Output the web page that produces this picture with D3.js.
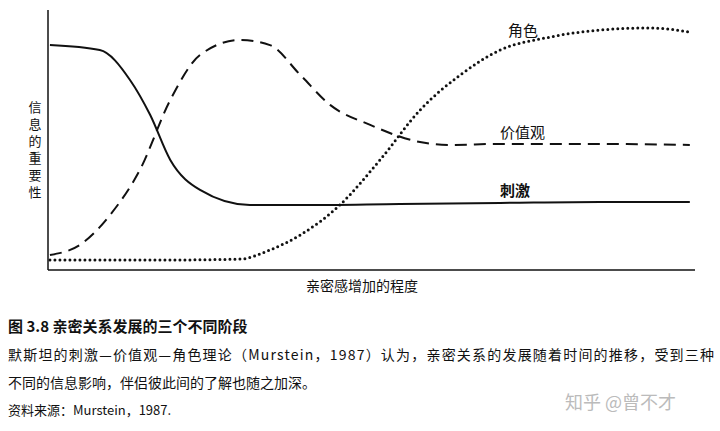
<!DOCTYPE html>
<html><head><meta charset="utf-8">
<script src="https://cdn.jsdelivr.net/npm/d3@7"></script>
<style>body{margin:0;background:#fff}svg{display:block}</style></head>
<body><svg id="c" width="720" height="431"></svg>
<script>
const stimX=[0.3,8,12.7,15.8,18.9,23.5,31.2,39,54.4,69.9,85.3,99.2];
const stimY=[86.5,84.6,73,59.6,42.3,30.8,25,25,25.4,25.8,26.2,26.2];
const valX=[0.3,4.9,9.6,14.2,18.9,23.5,29.7,34.3,39,43.6,49.8,57.5,62.1,69.9,85.3,99.2];
const valY=[5.8,9.6,21.2,38.5,65.4,82.7,88.5,86.5,75,63.5,55.8,49.2,48.1,48.5,48.5,48.1];
const roleX=[0.3,15.8,29.7,34.3,39,45.1,51.3,57.5,63.7,69.9,77.6,85.3,93,99.2];
const roleY=[3.8,3.8,4.2,7.7,13.5,25,42.3,61.5,75,84.6,89.6,92.3,93.1,91.5];
const seriesNames=["刺激","价值观","角色"];
const svg=d3.select("#c");
const x=d3.scaleLinear().domain([0,100]).range([48,695]);
const y=d3.scaleLinear().domain([0,100]).range([270,10]);
const F="'Noto Sans CJK SC',sans-serif";
svg.append("line").attr("x1",48).attr("x2",48).attr("y1",10).attr("y2",270).attr("stroke","#111").attr("stroke-width",1.5);
svg.append("line").attr("x1",48).attr("x2",695).attr("y1",270).attr("y2",270).attr("stroke","#111").attr("stroke-width",1.5);
const line=d3.line().x(d=>x(d[0])).y(d=>y(d[1])).curve(d3.curveMonotoneX);
const z=(a,b)=>a.map((v,i)=>[v,b[i]]);
svg.append("path").attr("d",line(z(stimX,stimY))).attr("fill","none").attr("stroke","#111").attr("stroke-width",2);
svg.append("path").attr("d",line(z(valX,valY))).attr("fill","none").attr("stroke","#111").attr("stroke-width",2).attr("stroke-dasharray","12,7");
svg.append("path").attr("d",line(z(roleX,roleY))).attr("fill","none").attr("stroke","#111").attr("stroke-width",3).attr("stroke-linecap","round").attr("stroke-dasharray","0,5");
const lab=[[500,196,seriesNames[0],true],[500,138,seriesNames[1],false],[508,36,seriesNames[2],false]];
lab.forEach(l=>svg.append("text").attr("x",l[0]).attr("y",l[1]).text(l[2]).attr("font-family",F).attr("font-size",15).attr("font-weight",l[3]?"bold":"normal").attr("fill","#111"));
const yl="信息的重要性";
[...yl].forEach((ch,i)=>svg.append("text").attr("x",35).attr("y",112+i*17).attr("text-anchor","middle").text(ch).attr("font-family",F).attr("font-size",13).attr("fill","#111"));
svg.append("text").attr("x",362).attr("y",291).attr("text-anchor","middle").text("亲密感增加的程度").attr("font-family",F).attr("font-size",14).attr("fill","#111");
svg.append("text").attr("x",8).attr("y",332).text("图 3.8   亲密关系发展的三个不同阶段").attr("font-family",F).attr("font-size",15).attr("font-weight","bold").attr("fill","#111");
svg.append("text").attr("x",8).attr("y",360).text("默斯坦的刺激—价值观—角色理论（Murstein，1987）认为，亲密关系的发展随着时间的推移，受到三种").attr("font-family",F).attr("font-size",14).attr("textLength",706).attr("fill","#111");
svg.append("text").attr("x",8).attr("y",388).text("不同的信息影响，伴侣彼此间的了解也随之加深。").attr("font-family",F).attr("font-size",14).attr("fill","#111");
svg.append("text").attr("x",8).attr("y",415).text("资料来源：Murstein，1987.").attr("font-family",F).attr("font-size",13).attr("fill","#111");
svg.append("text").attr("x",565).attr("y",409).text("知乎 @曾不才").attr("font-family",F).attr("font-size",18).attr("fill","#bbb");
</script></body></html>
